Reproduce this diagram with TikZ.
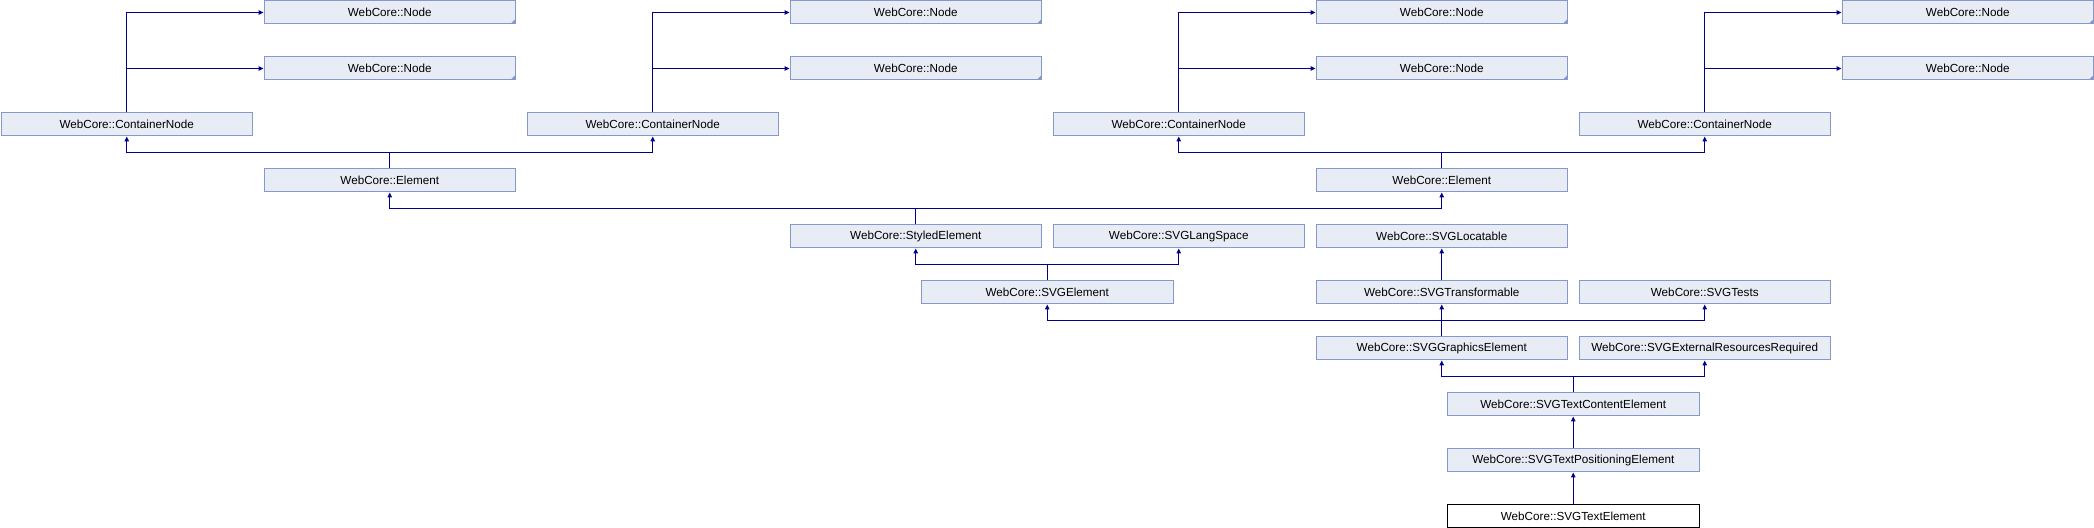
\documentclass[tikz,border=0pt]{standalone}
\usepackage{fontspec}
\setmainfont{Liberation Sans}
\usetikzlibrary{positioning,calc,arrows.meta}
\definecolor{myfill}{RGB}{232,236,245}
\definecolor{myedge}{RGB}{132,152,204}
\definecolor{myblue}{RGB}{0,0,140}
\tikzstyle{cls}=[draw=myedge,fill=myfill,line width=0.5pt,minimum width=125.75pt,minimum height=11.5pt,inner sep=0pt,anchor=north west,font=\fontsize{5.85}{7}\selectfont]
\tikzstyle{trunc}=[cls,path picture={\fill[myedge] (path picture bounding box.south east) -- ++(-2.5pt,0) -- ++(2.5pt,2.5pt) -- cycle;}]
\tikzstyle{self}=[cls,draw=black,fill=white]
\tikzstyle{arr}=[-{Triangle[length=2.5pt,width=2.2pt]},draw=myblue,line width=0.6pt]

\begin{document}
\begin{tikzpicture}[x=0.5pt,y=-0.5pt]
      \useasboundingbox (0,0) rectangle (2094,528);

      % truncated bases
      \node (N1a) [trunc] at (263.5,0.5) {WebCore::Node};
      \node (N1b) [trunc] at (263.5,56.5) {WebCore::Node};
      \node (N3a) [trunc] at (789.5,0.5) {WebCore::Node};
      \node (N3b) [trunc] at (789.5,56.5) {WebCore::Node};
      \node (N5a) [trunc] at (1315.5,0.5) {WebCore::Node};
      \node (N5b) [trunc] at (1315.5,56.5) {WebCore::Node};
      \node (N7a) [trunc] at (1841.5,0.5) {WebCore::Node};
      \node (N7b) [trunc] at (1841.5,56.5) {WebCore::Node};

      \node (CN0) [cls] at (0.5,112.5) {WebCore::ContainerNode};
      \node (CN2) [cls] at (526.5,112.5) {WebCore::ContainerNode};
      \node (CN4) [cls] at (1052.5,112.5) {WebCore::ContainerNode};
      \node (CN6) [cls] at (1578.5,112.5) {WebCore::ContainerNode};

      \node (E1) [cls] at (263.5,168.5) {WebCore::Element};
      \node (E5) [cls] at (1315.5,168.5) {WebCore::Element};

      \node (SE) [cls] at (789.5,224.5) {WebCore::StyledElement};
      \node (LS) [cls] at (1052.5,224.5) {WebCore::SVGLangSpace};
      \node (LOC) [cls] at (1315.5,224.5) {WebCore::SVGLocatable};

      \node (SVGE) [cls] at (921,280.5) {WebCore::SVGElement};
      \node (TR) [cls] at (1315.5,280.5) {WebCore::SVGTransformable};
      \node (TS) [cls] at (1578.5,280.5) {WebCore::SVGTests};

      \node (GE) [cls] at (1315.5,336.5) {WebCore::SVGGraphicsElement};
      \node (ERR) [cls] at (1578.5,336.5) {WebCore::SVGExternalResourcesRequired};

      \node (TCE) [cls] at (1447,392.5) {WebCore::SVGTextContentElement};
      \node (TPE) [cls] at (1447,448.5) {WebCore::SVGTextPositioningElement};
      \node (TE) [self] at (1447,504.5) {WebCore::SVGTextElement};

      % inheritance
      \foreach \c/\a/\b in {CN0/N1a/N1b, CN2/N3a/N3b, CN4/N5a/N5b, CN6/N7a/N7b} {
        \draw[arr] (\c.north) |- (\a.west);
        \draw[arr] (\c.north |- \b.west) -- (\b.west);
      }
      \draw[arr] (E1.north) -- ++(0,-16.3) coordinate (e1j) -| (CN0.south);
      \draw[arr] (e1j) -| (CN2.south);
      \draw[arr] (E5.north) -- ++(0,-16.3) coordinate (e5j) -| (CN4.south);
      \draw[arr] (e5j) -| (CN6.south);
      \draw[arr] (SE.north) -- ++(0,-16.3) coordinate (sej) -| (E1.south);
      \draw[arr] (sej) -| (E5.south);
      \draw[arr] (SVGE.north) -- ++(0,-16.3) coordinate (svj) -| (SE.south);
      \draw[arr] (svj) -| (LS.south);
      \draw[arr] (GE.north) -- (TR.south);
      \draw[arr] (GE.north |- TR.south) ++(0,16.3) coordinate (gej) -| (SVGE.south);
      \draw[arr] (gej) -| (TS.south);
      \draw[arr] (TCE.north) -- ++(0,-16.3) coordinate (tcj) -| (GE.south);
      \draw[arr] (tcj) -| (ERR.south);
      \draw[arr] (TR.north) -- (LOC.south);
      \draw[arr] (TPE.north) -- (TCE.south);
      \draw[arr] (TE.north) -- (TPE.south);
    \end{tikzpicture}
\end{document}
